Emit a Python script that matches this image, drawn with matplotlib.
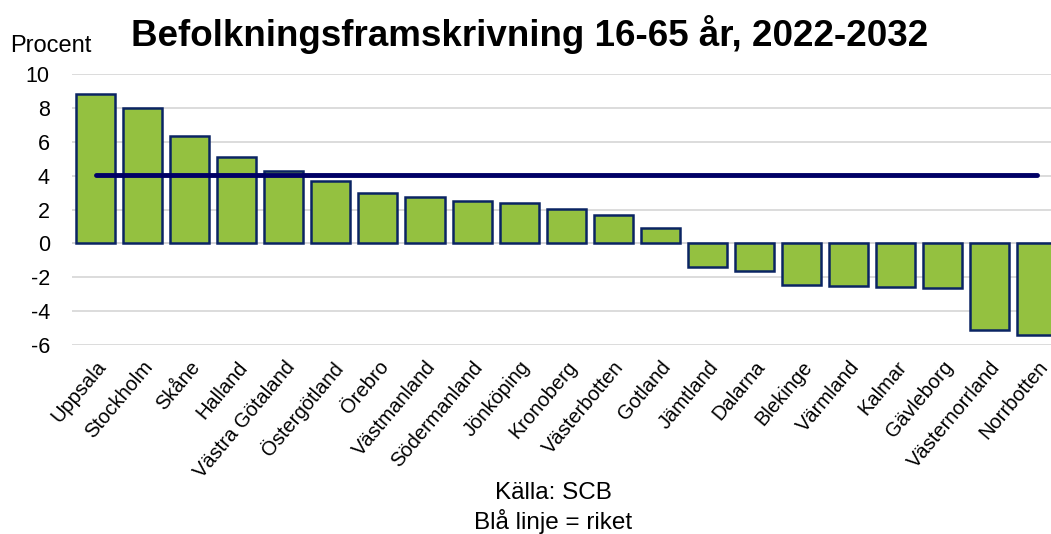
import matplotlib.pyplot as plt

plt.rcParams['font.family'] = ['Liberation Sans', 'DejaVu Sans']
plt.rcParams['axes.unicode_minus'] = False

regions = ['Uppsala', 'Stockholm', 'Skåne', 'Halland', 'Västra Götaland', 'Östergötland',
           'Örebro', 'Västmanland', 'Södermanland', 'Jönköping', 'Kronoberg', 'Västerbotten',
           'Gotland', 'Jämtland', 'Dalarna', 'Blekinge', 'Värmland', 'Kalmar', 'Gävleborg',
           'Västernorrland', 'Norrbotten']
change = [8.81, 7.98, 6.34, 5.11, 4.28, 3.68, 2.99, 2.71, 2.51, 2.36, 2.02, 1.70,
          0.89, -1.41, -1.66, -2.43, -2.51, -2.57, -2.61, -5.09, -5.42]
riket = 4.06

fig = plt.figure(figsize=(10.51, 5.34), dpi=100)
ax = fig.add_axes([72 / 1051, 1 - 345 / 534, (1051 - 72) / 1051, (345 - 74) / 534])

x = list(range(len(regions)))
ax.bar(x, change, width=0.83, color='#94C140', edgecolor='#0A2463', linewidth=1.8, zorder=2)
ax.plot([x[0], x[-1]], [riket, riket], color='#000066', linewidth=3.5,
        solid_capstyle='round', zorder=3)

ax.set_xlim(-0.5, 20.3)
ax.set_ylim(-6, 10)
ax.set_yticks(range(-6, 11, 2))
ax.yaxis.grid(True, color='#d9d9d9', linewidth=1.3, zorder=0)
ax.axhline(0, color='#b4bccf', linewidth=1.3, zorder=1)
for s in ax.spines.values():
    s.set_visible(False)
ax.tick_params(axis='both', length=0, labelsize=15.5)
ax.tick_params(axis='y', pad=16)
ax.set_xticks(x)
ax.set_xticklabels(regions, rotation=50, ha='right', rotation_mode='anchor', fontsize=14.5)
ax.tick_params(axis='x', pad=9)

fig.text(10 / 1051, 1 - 46 / 534, 'Procent', fontsize=17, va='center', ha='left')
fig.text(530 / 1051, 1 - 35 / 534, 'Befolkningsframskrivning 16-65 år, 2022-2032',
         fontsize=26.5, fontweight='bold', ha='center', va='center')
fig.text(553 / 1051, 1 - 493 / 534, 'Källa: SCB', fontsize=17.5, ha='center', va='center')
fig.text(553 / 1051, 1 - 522 / 534, 'Blå linje = riket', fontsize=17.5, ha='center', va='center')

fig.savefig('out.png', dpi=100)
